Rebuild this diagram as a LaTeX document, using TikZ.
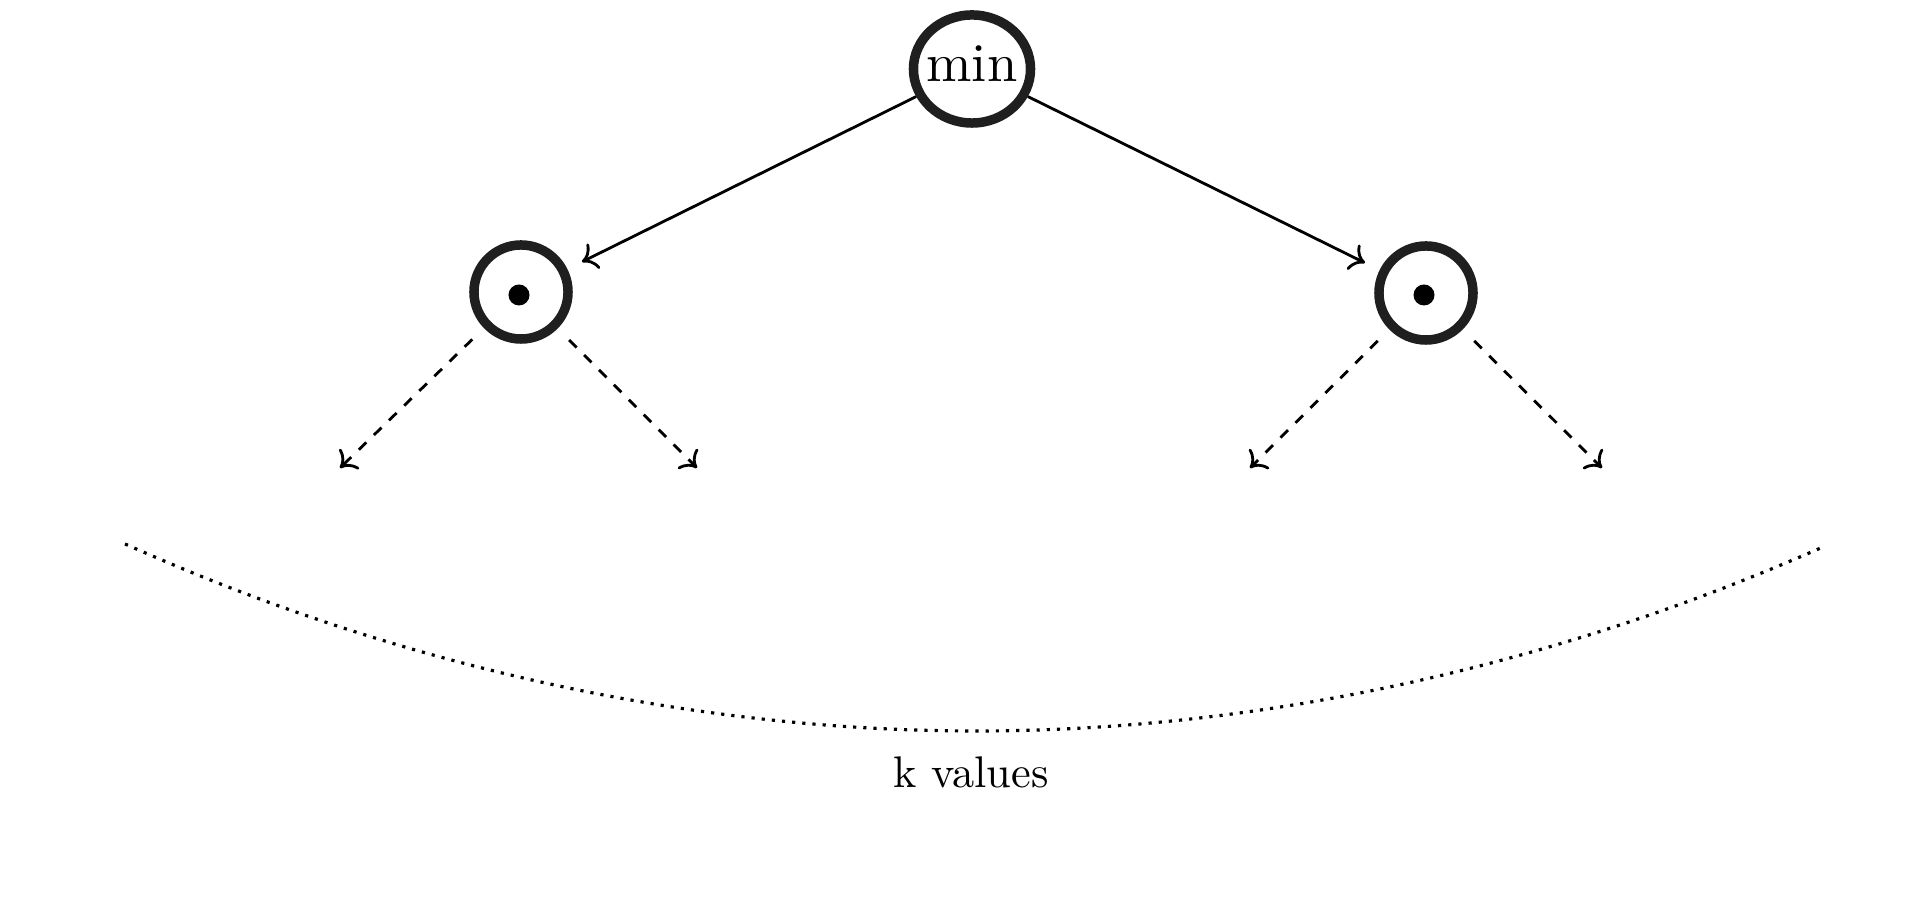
\documentclass[tikz,border=0pt]{standalone}
\usepackage{fontspec}
\usetikzlibrary{arrows.meta,shapes.geometric}
\begin{document}
\begin{tikzpicture}[x=0.01cm,y=-0.01cm,
  ring/.style={draw=black!88, line width=2.7pt, ellipse, inner sep=0pt},
  bigring/.style={ring, minimum width=1.17cm, minimum height=1.08cm},
  smallring/.style={ring, minimum width=0.94cm, minimum height=0.94cm, outer sep=0.21cm},
  dotmark/.style={circle, fill=black, inner sep=0pt, minimum size=0.21cm},
  tip/.style={-{To[length=4pt,width=8pt]}},
  solidedge/.style={tip, line width=0.8pt},
  dashedge/.style={tip, line width=0.8pt, dashed},
  arcline/.style={dotted, line width=0.9pt},
  labeltext/.style={font=\fontsize{10}{12}\selectfont, anchor=base, inner sep=0pt}
]
\useasboundingbox (0,0) rectangle (1929,901);

\node[bigring] (root) at (972,69) {};
\node[labeltext] (rootlabel) at (972,82) {\scalebox{1.55}{min}};

\node[smallring] (L) at (521,292) {};
\node[dotmark] (Ldot) at (519,295) {};
\node[smallring] (R) at (1426,293) {};
\node[dotmark] (Rdot) at (1424,295) {};

\draw[solidedge] (root) -- (L);
\draw[solidedge] (root) -- (R);

\coordinate (LL) at (340,468);
\coordinate (LR) at (697,468);
\coordinate (RL) at (1250,468);
\coordinate (RR) at (1602,468);

\draw[dashedge] (L) -- (LL);
\draw[dashedge] (L) -- (LR);
\draw[dashedge] (R) -- (RL);
\draw[dashedge] (R) -- (RR);

\coordinate (cl) at (125,544);
\coordinate (cb) at (976,731);
\coordinate (cr) at (1823,547);
\draw[arcline] (cl) parabola bend (cb) (cr);

\node[labeltext] (klabel) at (971,788) {\scalebox{1.26}{k values}};
\end{tikzpicture}
\end{document}
